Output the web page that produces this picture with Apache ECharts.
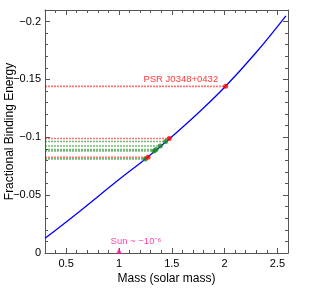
<!DOCTYPE html>
<html><head><meta charset="utf-8">
<script src="https://cdn.jsdelivr.net/npm/echarts@6/dist/echarts.min.js"></script>
<style>html,body{margin:0;padding:0;background:#fff}#c{width:309px;height:289px}</style>
</head><body><div id="c"></div>
<script>
// ---- data ----
const curveMass = [0.3, 0.6, 1.0, 1.25, 1.5, 1.75, 2.0, 2.3, 2.58];
const curveBE   = [-0.0127, -0.034, -0.0635, -0.0813, -0.1005, -0.121, -0.1432, -0.1735, -0.205];
const redMass   = [2.01, 1.476, 1.275];
const redBE     = [-0.144, -0.0989, -0.0828];
const greenMass = [1.442, 1.391, 1.351, 1.332, 1.249];
const greenBE   = [-0.0963, -0.0925, -0.0894, -0.0882, -0.0813];
const sunMass   = [1.0];
const sunBE     = [-0.000001];
const psrLabel  = 'PSR J0348+0432';
const sunLabel  = 'Sun ~ \u221210\u207B\u2076';
const xMajorTicks = [0.5, 1, 1.5, 2, 2.5];
const yMajorTicks = [-0.2, -0.15, -0.1, -0.05, 0];
const xName = 'Mass (solar mass)';
const yName = 'Fractional Binding Energy';

// ---- chart ----
const XMIN = 0.3, XMAX = 2.6, YMIN = -0.21, YMAX = 0;
const axisColor = '#555';
const font = 'Liberation Sans, Arial, sans-serif';
function fmtY(v){ return Math.abs(v) < 1e-9 ? '0' : '\u2212' + String(Math.abs(+v.toFixed(3))); }
function fmtX(v){ return String(+v.toFixed(2)); }

function xAx(grid, pos, major, withLabel){
  const a = {
    type:'value', gridIndex:grid, position:pos, min:XMIN, max:XMAX, interval:0.1,
    splitLine:{show:false},
    axisLine:{show:major, onZero:false, lineStyle:{color:axisColor, width:1}},
    axisTick:{show:true, inside:true, length: major?5:3, lineStyle:{color:axisColor}},
    axisLabel:{show:withLabel, color:'#000', fontSize:11, fontFamily:font, margin:5, formatter:fmtX}
  };
  if (major){ a.axisTick.customValues = xMajorTicks; a.axisLabel.customValues = xMajorTicks; }
  if (withLabel){
    a.name = xName; a.nameLocation='middle'; a.nameGap=20; a.nameMoveOverlap=false;
    a.nameTextStyle = {color:'#000', fontSize:12, fontFamily:font};
  }
  return a;
}
function yAx(grid, pos, major, withLabel){
  const a = {
    type:'value', gridIndex:grid, position:pos, min:YMIN, max:YMAX, inverse:true, interval:0.01,
    splitLine:{show:false},
    axisLine:{show:major, onZero:false, lineStyle:{color:axisColor, width:1}},
    axisTick:{show:true, inside:true, length: major?5:3, lineStyle:{color:axisColor}},
    axisLabel:{show:withLabel, color:'#000', fontSize:11, fontFamily:font, margin:4, formatter:fmtY}
  };
  if (major){ a.axisTick.customValues = yMajorTicks; a.axisLabel.customValues = yMajorTicks; }
  if (withLabel){
    a.name = yName; a.nameLocation='middle'; a.nameGap=29; a.nameRotate=90; a.nameMoveOverlap=false;
    a.nameTextStyle = {color:'#000', fontSize:12, fontFamily:font};
  }
  return a;
}

const gridRect = {left:45, right:21, top:10, bottom:36, containLabel:false, outerBoundsMode:'none'};
const series = [];
series.push({
  type:'line', xAxisIndex:0, yAxisIndex:0, smooth:0.4, symbol:'none', z:3,
  data: curveMass.map((m,i)=>[m, curveBE[i]]),
  lineStyle:{color:'#0000ff', width:1.3}
});
function hline(m, be, color){
  return {type:'line', xAxisIndex:0, yAxisIndex:0, symbol:'none', z:2, silent:true,
    data:[[XMIN, be],[m, be]], lineStyle:{color:color, width:1.6, type:[2,1], opacity:0.55}};
}
redMass.forEach((m,i)=>series.push(hline(m, redBE[i], '#ff0000')));
greenMass.forEach((m,i)=>series.push(hline(m, greenBE[i], '#008000')));
series.push({
  type:'scatter', xAxisIndex:0, yAxisIndex:0, symbol:'circle', symbolSize:5, z:5,
  itemStyle:{color:'#1a8a1a'},
  data: greenMass.map((m,i)=>[m, greenBE[i]])
});
series.push({
  type:'scatter', xAxisIndex:0, yAxisIndex:0, symbol:'circle', symbolSize:5, z:6,
  itemStyle:{color:'#ff0000'},
  data: redMass.map((m,i)=>{
    const d = {value:[m, redBE[i]]};
    if (i===0) d.label = {show:true, formatter:psrLabel, position:'left', distance:5, offset:[0,-7],
      color:'#ff0000', fontSize:9.5, fontFamily:font};
    return d;
  })
});
series.push({
  type:'scatter', xAxisIndex:0, yAxisIndex:0, symbol:'triangle', symbolSize:6, symbolOffset:[0,-2], z:6, clip:false,
  itemStyle:{color:'#ff1493'},
  data: sunMass.map((m,i)=>[m, sunBE[i]]),
  label:{show:true, formatter:sunLabel, position:'top', distance:2, offset:[17,0], color:'#ff1493', fontSize:9.5, fontFamily:font}
});

const chart = echarts.init(document.getElementById('c'), null, {renderer:'canvas'});
chart.setOption({
  animation:false,
  backgroundColor:'#fff',
  grid:[Object.assign({}, gridRect), Object.assign({}, gridRect)],
  xAxis:[xAx(0,'bottom',true,true), xAx(0,'top',true,false), xAx(1,'bottom',false,false), xAx(1,'top',false,false)],
  yAxis:[yAx(0,'left',true,true), yAx(0,'right',true,false), yAx(1,'left',false,false), yAx(1,'right',false,false)],
  series: series
});
</script></body></html>
